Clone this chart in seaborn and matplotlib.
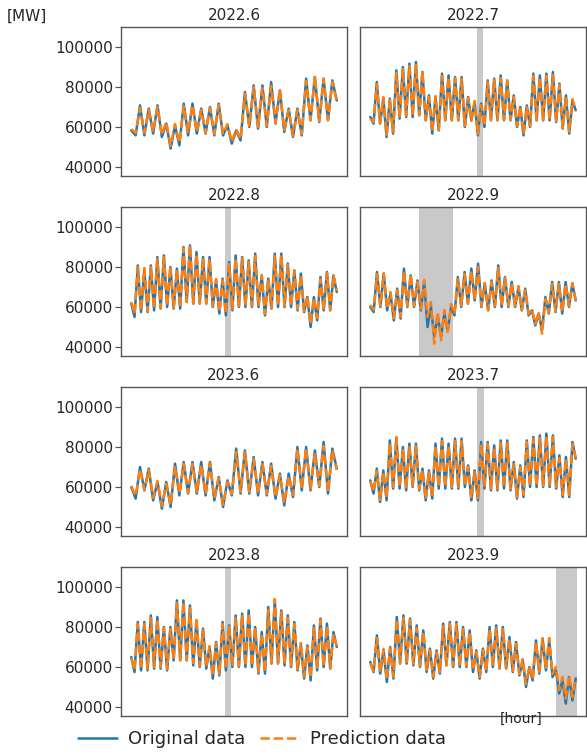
import numpy as np
import matplotlib
matplotlib.use("Agg")
import matplotlib.pyplot as plt
import seaborn as sns

# ---------------- data (daily troughs / peaks, 12 h apart) -------------
TITLES = ["2022.6", "2022.7", "2022.8", "2022.9", "2023.6", "2023.7", "2023.8", "2023.9"]
STEP_HOURS = 12

ORIG_2022_6 = [58300, 55800, 70800, 55800, 69200, 56700, 70800, 55000, 61700, 49200,
               60800, 50800, 71700, 55800, 71700, 56700, 69200, 56700, 70000, 55800,
               71700, 55800, 60800, 51700, 58300, 53300, 77500, 60000, 80800, 59200,
               80800, 60000, 82500, 61700, 78300, 57500, 69200, 55000, 69200, 55800,
               84200, 63300, 85000, 62500, 84200, 63300, 83300, 73300]
PRED_2022_6 = [59000, 57000, 69500, 57000, 68500, 57500, 70000, 56000, 62500, 50500,
               61500, 52000, 70500, 57000, 71000, 57500, 68500, 57000, 69500, 56500,
               71000, 56500, 61500, 52500, 59000, 54000, 76500, 60500, 80000, 60000,
               79500, 60500, 80500, 62000, 79000, 58500, 68500, 55500, 68500, 56500,
               83000, 63500, 85500, 63000, 84000, 63500, 82500, 73000]

ORIG_2022_7 = [65000, 61700, 82500, 61700, 74200, 55000, 74200, 56700, 88300, 64200,
               90000, 65000, 91700, 65000, 92500, 65800, 87500, 63300, 75800, 56700,
               75000, 58300, 86700, 63300, 85800, 63300, 85000, 63300, 85000, 60000,
               75000, 63300, 72500, 55800, 71700, 60000, 83300, 63300, 84200, 63300,
               85800, 63300, 83300, 63300, 75800, 60000, 70000, 55800, 70800, 60000,
               86700, 63300, 85800, 63300, 86700, 63300, 87500, 62500, 81700, 59200,
               75800, 56700, 73300, 68300]
PRED_2022_7 = [64000, 62500, 81500, 62000, 75000, 56000, 73500, 57500, 87000, 64500,
               89000, 65500, 90500, 65500, 91000, 66000, 88000, 63500, 75000, 57500,
               75500, 58500, 85500, 63500, 85000, 63500, 84500, 63500, 84000, 60500,
               74500, 63000, 73000, 56500, 71000, 60500, 82500, 63500, 83500, 63500,
               84500, 63500, 83000, 63500, 75000, 60500, 70500, 56500, 70000, 60500,
               85500, 63500, 85000, 63500, 85500, 63500, 86000, 63000, 81000, 59500,
               75000, 57500, 74000, 68000]

ORIG_2022_8 = [61700, 55000, 80800, 57500, 78300, 57500, 80800, 58300, 85000, 59200,
               85800, 60000, 80000, 59200, 79200, 59200, 90000, 62500, 90800, 61700,
               87500, 61700, 85000, 61700, 85000, 60000, 73300, 56700, 74200, 55800,
               82500, 58300, 85800, 60000, 85000, 60000, 83300, 60000, 86700, 60000,
               75800, 55800, 74200, 59200, 86700, 60000, 86700, 60000, 81700, 60000,
               78300, 58300, 76700, 57500, 65000, 50000, 65000, 53300, 75000, 58300,
               77500, 58300, 75800, 67500]
PRED_2022_8 = [62500, 56500, 80000, 58000, 79500, 58000, 80000, 59000, 84000, 59500,
               85000, 60500, 80500, 59500, 78500, 59500, 89500, 62500, 91000, 62000,
               86500, 62000, 84500, 62000, 84000, 60500, 74000, 57500, 73500, 56500,
               81500, 59000, 84500, 60500, 84500, 60500, 82500, 60500, 85500, 60500,
               76000, 56500, 74000, 59500, 85500, 60500, 86000, 60500, 81000, 60500,
               78000, 59000, 76000, 58000, 65500, 51500, 64500, 54500, 74000, 58500,
               77000, 58500, 76000, 68000]

ORIG_2022_9 = [60000, 57500, 77500, 60000, 76700, 58300, 66700, 53300, 69200, 54200,
               79200, 60000, 75800, 60000, 73300, 58300, 72500, 50000, 60000, 45000,
               55800, 45000, 56700, 48300, 60000, 55800, 75000, 60000, 77500, 61700,
               79200, 63300, 81700, 60000, 71700, 58300, 73300, 60000, 80800, 60000,
               75000, 60000, 72500, 60000, 70000, 58300, 69200, 55800, 58300, 50800,
               56700, 48300, 65000, 56700, 72500, 57500, 72500, 56700, 72500, 60000,
               71700, 63300]
PRED_2022_9 = [61000, 58500, 76500, 60500, 77000, 59000, 67500, 54500, 68500, 55000,
               78000, 60500, 76500, 60500, 72500, 59000, 73500, 55000, 62500, 41700,
               57500, 43300, 58500, 47500, 61500, 56500, 74000, 60500, 76500, 62000,
               78000, 63500, 80000, 60500, 72000, 58500, 72500, 60500, 79500, 60500,
               74500, 60500, 72000, 60500, 70500, 58500, 68500, 56500, 59000, 51500,
               57500, 46700, 64000, 57000, 71500, 58000, 71500, 57500, 71500, 60500,
               72000, 63000]

ORIG_2023_6 = [60000, 54200, 70000, 58300, 69200, 53300, 62500, 49200, 62500, 50000,
               71700, 55800, 72500, 56700, 72500, 56700, 72500, 55800, 72500, 53300,
               65000, 50000, 63300, 55800, 79200, 56700, 78300, 56700, 75000, 55800,
               72500, 55800, 71700, 54200, 66700, 50800, 66700, 55000, 80000, 58300,
               80000, 58300, 78300, 60000, 82500, 56700, 79200, 69200]
PRED_2023_6 = [60500, 55500, 69000, 58500, 68500, 54500, 63000, 50500, 61500, 51000,
               70500, 56500, 71500, 57000, 71500, 57500, 71000, 56500, 72000, 54500,
               64500, 51000, 62500, 56500, 77500, 57500, 77500, 57500, 74000, 56500,
               71500, 56500, 70500, 55000, 66000, 52000, 65500, 56000, 79000, 59000,
               79500, 59000, 77000, 60500, 80500, 57500, 78500, 68500]

ORIG_2023_7 = [63300, 56700, 69200, 52500, 68300, 53300, 83300, 59200, 84200, 59200,
               80000, 58300, 81700, 60000, 81700, 58300, 69200, 53300, 68300, 54200,
               81700, 59200, 84200, 59200, 81700, 59200, 84200, 59200, 84200, 60000,
               70800, 53300, 68300, 53300, 82500, 59200, 82500, 58300, 80800, 58300,
               83300, 59200, 83300, 58300, 72500, 54200, 70800, 55000, 83300, 60000,
               85000, 60000, 85800, 60000, 86700, 60000, 85800, 59200, 75800, 55000,
               75000, 55000, 82500, 74200]
PRED_2023_7 = [63000, 57500, 68000, 53500, 67500, 54500, 82000, 60000, 85000, 60000,
               79000, 59000, 80500, 60500, 80500, 59000, 68500, 54000, 67500, 55000,
               80500, 60000, 83000, 60000, 80500, 60000, 83000, 60000, 83000, 60500,
               70000, 54500, 67500, 54500, 81500, 60000, 81500, 59000, 80000, 59000,
               82000, 60000, 82000, 59000, 71500, 55000, 70000, 56000, 82500, 60500,
               84000, 60500, 84500, 60500, 85500, 60500, 85000, 60000, 74500, 56000,
               74000, 56000, 81500, 74500]

ORIG_2023_8 = [65000, 57500, 82500, 58300, 82500, 58300, 85800, 59200, 85000, 59200,
               80000, 58300, 80000, 63300, 93300, 63300, 93300, 63300, 90800, 60800,
               83300, 60000, 79200, 59200, 70000, 54200, 72500, 55800, 82500, 58300,
               80800, 60000, 85800, 60000, 86700, 60000, 88300, 60000, 80000, 56700,
               77500, 56700, 90000, 61700, 93300, 61700, 88300, 60800, 85800, 60000,
               82500, 58300, 71700, 54200, 70800, 53300, 80800, 58300, 84200, 60000,
               81700, 59200, 77500, 70000]
PRED_2023_8 = [64500, 58500, 81500, 59000, 81500, 59000, 84500, 60000, 84000, 60000,
               79500, 59000, 79000, 63500, 92000, 63500, 92500, 63500, 89500, 62000,
               84500, 60500, 78500, 60000, 70500, 55500, 72000, 56500, 81500, 59000,
               80000, 60500, 84500, 60500, 85500, 60500, 87000, 60500, 79500, 57500,
               76500, 57500, 88500, 62000, 94000, 62000, 87500, 61500, 84500, 60500,
               81500, 59000, 72000, 55000, 70000, 54500, 79500, 59000, 83500, 60500,
               80500, 59500, 76500, 70500]

ORIG_2023_9 = [62500, 57500, 75800, 56700, 68300, 52500, 70000, 54200, 85000, 61700,
               85800, 61700, 84200, 60800, 80800, 60000, 78300, 57500, 69200, 54200,
               68300, 56700, 81700, 60800, 82500, 60000, 82500, 60000, 80000, 60000,
               78300, 57500, 68300, 54200, 69200, 57500, 80000, 60000, 80800, 59200,
               80000, 59200, 75000, 57500, 72500, 55800, 63300, 50000, 60000, 53300,
               73300, 56700, 74200, 58300, 73300, 55000, 58300, 46700, 53300, 41700,
               55000, 43300, 54200]
PRED_2023_9 = [62000, 58000, 74500, 57500, 69000, 53500, 69500, 55000, 84000, 62000,
               84500, 62000, 83500, 61500, 79500, 60500, 77500, 58500, 68500, 55000,
               67500, 57500, 80500, 61000, 81500, 60500, 81500, 60500, 79000, 60500,
               77500, 58500, 67500, 55000, 68500, 58000, 79000, 60500, 79500, 59500,
               79000, 59500, 74000, 58000, 71500, 56500, 64000, 51500, 60500, 54000,
               72500, 57500, 74500, 59000, 74500, 56500, 60000, 48500, 55000, 44200,
               56000, 45000, 55000]

# highlighted periods [hour start, hour end] (None = no highlight)
SPAN_2022_6 = None
SPAN_2022_7 = (394, 414)
SPAN_2022_8 = (345, 367)
SPAN_2022_9 = (174, 293)
SPAN_2023_6 = None
SPAN_2023_7 = (394, 417)
SPAN_2023_8 = (345, 367)
SPAN_2023_9 = (672, 750)

Y_TICKS = [40000, 60000, 80000, 100000]
LEGEND_LABELS = ["Original data", "Prediction data"]

ORIGS = [ORIG_2022_6, ORIG_2022_7, ORIG_2022_8, ORIG_2022_9,
         ORIG_2023_6, ORIG_2023_7, ORIG_2023_8, ORIG_2023_9]
PREDS = [PRED_2022_6, PRED_2022_7, PRED_2022_8, PRED_2022_9,
         PRED_2023_6, PRED_2023_7, PRED_2023_8, PRED_2023_9]
SPANS = [SPAN_2022_6, SPAN_2022_7, SPAN_2022_8, SPAN_2022_9,
         SPAN_2023_6, SPAN_2023_7, SPAN_2023_8, SPAN_2023_9]

# ---------------- figure ----------------
sns.set_style("white")
plt.rcParams["font.family"] = ["DejaVu Sans"]

W, H = 587, 755
fig = plt.figure(figsize=(W / 100, H / 100), dpi=100)

col_left_px = [121, 360]
ax_w_px = 226
row_bottom_px = [176, 356, 536, 716]
ax_h_px = 149

BLUE = "#1f77b4"
ORANGE = "#ff7f0e"

handles = None
for i in range(8):
    r, c = divmod(i, 2)
    ax = fig.add_axes([col_left_px[c] / W, 1 - row_bottom_px[r] / H,
                       ax_w_px / W, ax_h_px / H])
    o = np.asarray(ORIGS[i], dtype=float)
    p = np.asarray(PREDS[i], dtype=float)
    x = np.arange(len(o)) * STEP_HOURS
    xmax = x[-1]

    if SPANS[i] is not None:
        ax.axvspan(SPANS[i][0], SPANS[i][1], color="#c9c9c9", lw=0, zorder=0)

    sns.lineplot(x=x, y=o, ax=ax, color=BLUE, lw=1.8, estimator=None,
                 sort=False, label=LEGEND_LABELS[0], legend=False)
    sns.lineplot(x=x, y=p, ax=ax, color=ORANGE, lw=1.8, linestyle="--",
                 estimator=None, sort=False, label=LEGEND_LABELS[1], legend=False)

    ax.set_xlim(-0.05 * xmax, 1.05 * xmax)
    ax.set_ylim(35500, 110000)
    ax.set_yticks(Y_TICKS)
    ax.set_xticks([])
    ax.set_xlabel("")
    ax.set_ylabel("")
    ax.set_title(TITLES[i], fontsize=11, pad=5)
    for s in ax.spines.values():
        s.set_edgecolor("#555555")
        s.set_linewidth(1.0)
    if c == 0:
        ax.tick_params(axis="y", left=True, length=4, width=0.9, color="#555555",
                       labelsize=11, pad=2)
    else:
        ax.tick_params(axis="y", left=False, labelleft=False)
    if handles is None:
        handles = ax.get_lines()[:2]

fig.text(7 / W, 1 - 16 / H, "[MW]", fontsize=11, ha="left", va="center")
fig.text(521 / W, 1 - 719 / H, "[hour]", fontsize=10, ha="center", va="center")

fig.legend(handles, LEGEND_LABELS, loc="center", bbox_to_anchor=(262 / W, 1 - 739 / H),
           ncol=2, frameon=False, fontsize=13, handlelength=2.2,
           handletextpad=0.6, columnspacing=0.8)

fig.savefig("out.png", dpi=100)
